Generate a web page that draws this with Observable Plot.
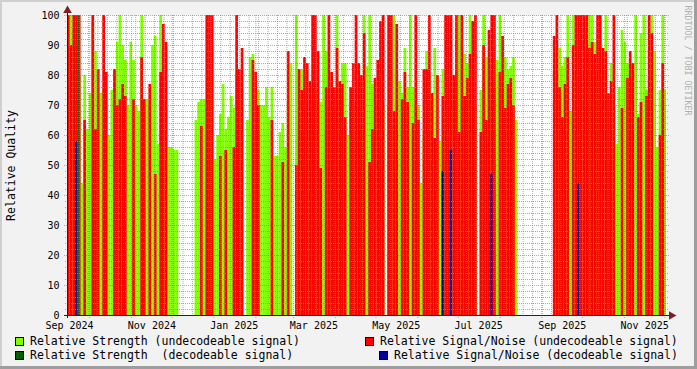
<!DOCTYPE html>
<html><head><meta charset="utf-8">
<script src="https://cdn.jsdelivr.net/npm/d3@7"></script>
<script src="https://cdn.jsdelivr.net/npm/@observablehq/plot@0.6"></script>
<style>
html,body{margin:0;padding:0;background:#f2f2f2;}
#wrap{position:relative;width:697px;height:369px;background:#f2f2f2;overflow:hidden;font-family:"DejaVu Sans Mono",monospace;}
#chart{position:absolute;left:0;top:0;}
.sh{position:absolute;}
#legend{position:absolute;left:0;top:330px;width:697px;height:39px;font-size:11.5px;color:#000;}
.item{position:absolute;display:flex;align-items:center;height:14px;white-space:pre;line-height:14px;}
.sw{width:9px;height:9px;box-sizing:border-box;border:1px solid #000;margin-right:6px;flex:none;}
</style></head>
<body>
<div id="wrap"><div id="chart"></div><div id="legend"></div>
<div class="sh" style="left:0;top:0;width:697px;height:2px;background:#cfcfcf"></div>
<div class="sh" style="left:0;top:0;width:2px;height:369px;background:#cfcfcf"></div>
<div class="sh" style="left:0;top:366px;width:697px;height:3px;background:#9e9e9e"></div>
<div class="sh" style="left:694px;top:0;width:3px;height:369px;background:#9e9e9e"></div>
</div>
<script>
// ---- data (one value per ~2-day step) ----
const strengthUndecodeable = [
100,100,95,90,80,44,80,62,74,98,
88,74,74,75,70,60,75,80,91,100,
90,85,70,91,85,70,68,100,70,72,
70,90,93,57,100,55,69,56,56,55,
55,null,null,null,null,null,null,65,71,72,
72,72,80,90,52,60,67,77,62,66,
73,69,80,70,75,null,65,86,87,60,
75,70,70,76,66,76,53,53,61,64,
56,70,84,null,100,60,82,80,60,65,
70,75,70,71,100,88,70,70,70,100,
75,84,84,60,71,70,60,76,63,100,
83,100,77,62,70,53,70,null,70,63,
100,65,78,74,89,76,100,76,70,70,
44,59,88,80,72,89,57,58,82,68,
70,75,70,96,100,90,87,84,100,50,
70,null,75,100,86,82,70,76,85,100,
67,86,82,83,86,65,null,null,null,null,
null,null,null,null,null,null,null,null,null,null,
85,89,83,86,100,68,100,80,70,75,
80,70,100,100,91,80,70,70,100,50,
84,70,57,76,95,91,84,79,60,100,
67,94,100,75,80,100,88,56,75,100,
75];
const snrUndecodeable = [
100,90,100,100,100,null,65,null,null,100,
62,82,null,100,81,null,null,82,70,72,
77,73,null,null,72,null,null,86,72,null,
77,null,47,null,81,97,91,null,null,null,
null,null,null,null,null,null,null,null,null,63,
null,100,100,100,null,null,53,null,55,null,
null,56,100,82,89,null,null,null,85,81,
70,null,null,null,null,65,null,null,null,51,
null,88,null,null,50,82,75,86,84,78,
100,100,88,49,null,76,100,81,76,89,
78,77,66,null,76,84,100,84,80,94,
null,51,62,79,85,98,100,null,100,100,
68,97,null,72,81,71,null,64,100,65,
null,82,82,100,74,59,80,null,73,100,
100,100,80,100,61,100,73,79,87,98,
100,null,61,90,65,95,100,100,null,81,
93,69,77,79,70,null,null,null,null,null,
null,null,null,null,null,null,null,null,null,93,
100,76,66,77,86,null,90,100,100,100,
100,100,89,91,87,100,100,89,88,74,
78,100,null,null,69,null,79,88,84,null,
66,71,null,73,100,94,null,null,60,84,
null];
// decodeable signals: step index and value
const strengthDecodeableSteps = [4];
const strengthDecodeableValues = [100];
const snrDecodeableSteps = [3, 138, 141, 156, 188];
const snrDecodeableValues = [58, 48, 55, 47, 44];

const xTickMonths = ["2024-09-16","2024-11-16","2025-01-16","2025-03-16","2025-05-16","2025-07-16","2025-09-16","2025-11-16"];
const xTickLabels = ["Sep 2024","Nov 2024","Jan 2025","Mar 2025","May 2025","Jul 2025","Sep 2025","Nov 2025"];
const yTicks = [0,10,20,30,40,50,60,70,80,90,100];

const legendLabels = ["Relative Strength (undecodeable signal)","Relative Signal/Noise (undecodeable signal)","Relative Strength  (decodeable signal)","Relative Signal/Noise (decodeable signal)"];
const seriesColors = ["#80ff00","#ff0000","#006000","#00009c"];

// ---- time layout ----
const DAY = 864e5;
const start = Date.UTC(2024, 8, 14, 11, 30);
const end = start + 443.7 * DAY;
const STEP = 2.0104 * DAY;
const stepRow = (i, v) => ({t0: new Date(start + i * STEP), t1: new Date(start + (i + 1) * STEP), v});

const greenRows = strengthUndecodeable.map((v, i) => stepRow(i, v)).filter(d => d.v != null);
const redRows = snrUndecodeable.map((v, i) => stepRow(i, v)).filter(d => d.v != null);
const dgRows = strengthDecodeableSteps.map((s, k) => stepRow(s, strengthDecodeableValues[k]));
const blueRows = snrDecodeableSteps.map((s, k) => stepRow(s, snrDecodeableValues[k]));

const months = d3.utcMonth.range(new Date(start), new Date(end));
const weeks = d3.utcMonday.range(new Date(start), new Date(end));
const yMinor = d3.range(2, 100, 2).filter(v => v % 10 !== 0);
const yMajor = yTicks.filter(v => v > 0);
const xTicks = xTickMonths.map(s => new Date(s + "T00:00:00Z"));
const labelOf = new Map(xTicks.map((d, i) => [+d, xTickLabels[i]]));

const gridMinor = {stroke: "#8f8f8f", strokeOpacity: 0.75, strokeDasharray: "1,1"};
const gridMajor = {stroke: "#de4f4f", strokeOpacity: 0.6, strokeDasharray: "1,1"};

const chart = Plot.plot({
  width: 697, height: 330,
  marginLeft: 67, marginRight: 31, marginTop: 15, marginBottom: 15,
  style: {background: "transparent", fontFamily: "DejaVu Sans Mono", fontSize: "10px", color: "#000", overflow: "visible"},
  x: {type: "utc", domain: [new Date(start), new Date(end)]},
  y: {domain: [0, 100]},
  marks: [
    Plot.frame({fill: "white", stroke: null}),
    Plot.rectY(greenRows, {x1: "t0", x2: "t1", y: "v", fill: seriesColors[0], clip: true}),
    Plot.rectY(redRows, {x1: "t0", x2: "t1", y: "v", fill: seriesColors[1], clip: true}),
    Plot.rectY(dgRows, {x1: "t0", x2: "t1", y: "v", fill: seriesColors[2], insetRight: 1.7}),
    Plot.rectY(blueRows, {x1: "t0", x2: "t1", y: "v", fill: seriesColors[3], insetRight: 0.7}),
    Plot.ruleY(yMinor, {...gridMinor, insetLeft: -2, insetRight: -2}),
    Plot.ruleX(weeks, {...gridMinor, insetBottom: -2}),
    Plot.ruleY(yMajor, {...gridMajor, insetLeft: -3, insetRight: -3}),
    Plot.ruleX(months, {...gridMajor, insetBottom: -3}),
    Plot.ruleY([0], {stroke: "#1f1f3a", insetLeft: -3, insetRight: -4}),
    Plot.ruleX([new Date(start)], {stroke: "#1f1f3a", insetTop: -4, insetBottom: -3}),
    Plot.dot([{x: new Date(start), y: 100}], {x: "x", y: "y", symbol: "triangle", r: 3.2, fill: "#801f1f", stroke: null, dy: -5}),
    Plot.dot([{x: new Date(end), y: 0}], {x: "x", y: "y", symbol: "triangle", r: 3.2, fill: "#801f1f", stroke: null, rotate: 90, dx: 5}),
    Plot.axisX(xTicks, {tickSize: 0, tickPadding: 6, tickFormat: d => labelOf.get(+d), label: null, fontSize: 10}),
    Plot.axisY(yTicks, {tickSize: 0, tickPadding: 8, label: null, fontSize: 10}),
    Plot.text(["Relative Quality"], {frameAnchor: "left", rotate: -90, dx: -56, textAnchor: "middle", lineAnchor: "middle", fontSize: 11.5, fill: "#000"}),
    Plot.text(["RRDTOOL / TOBI OETIKER"], {frameAnchor: "top-right", rotate: 90, dx: 21, dy: 45, textAnchor: "middle", lineAnchor: "middle", fontSize: 8.3, fill: "#b0b0b0"})
  ]
});
document.getElementById("chart").appendChild(chart);

// ---- legend ----
const legendPos = [[15, 4], [365, 4], [15, 18], [379, 18]];
const legend = document.getElementById("legend");
legendLabels.forEach((lab, i) => {
  const it = document.createElement("div");
  it.className = "item";
  it.style.left = legendPos[i][0] + "px";
  it.style.top = legendPos[i][1] + "px";
  const sw = document.createElement("span");
  sw.className = "sw";
  sw.style.background = seriesColors[i];
  const tx = document.createElement("span");
  tx.textContent = lab;
  it.appendChild(sw); it.appendChild(tx);
  legend.appendChild(it);
});
</script>
</body></html>
